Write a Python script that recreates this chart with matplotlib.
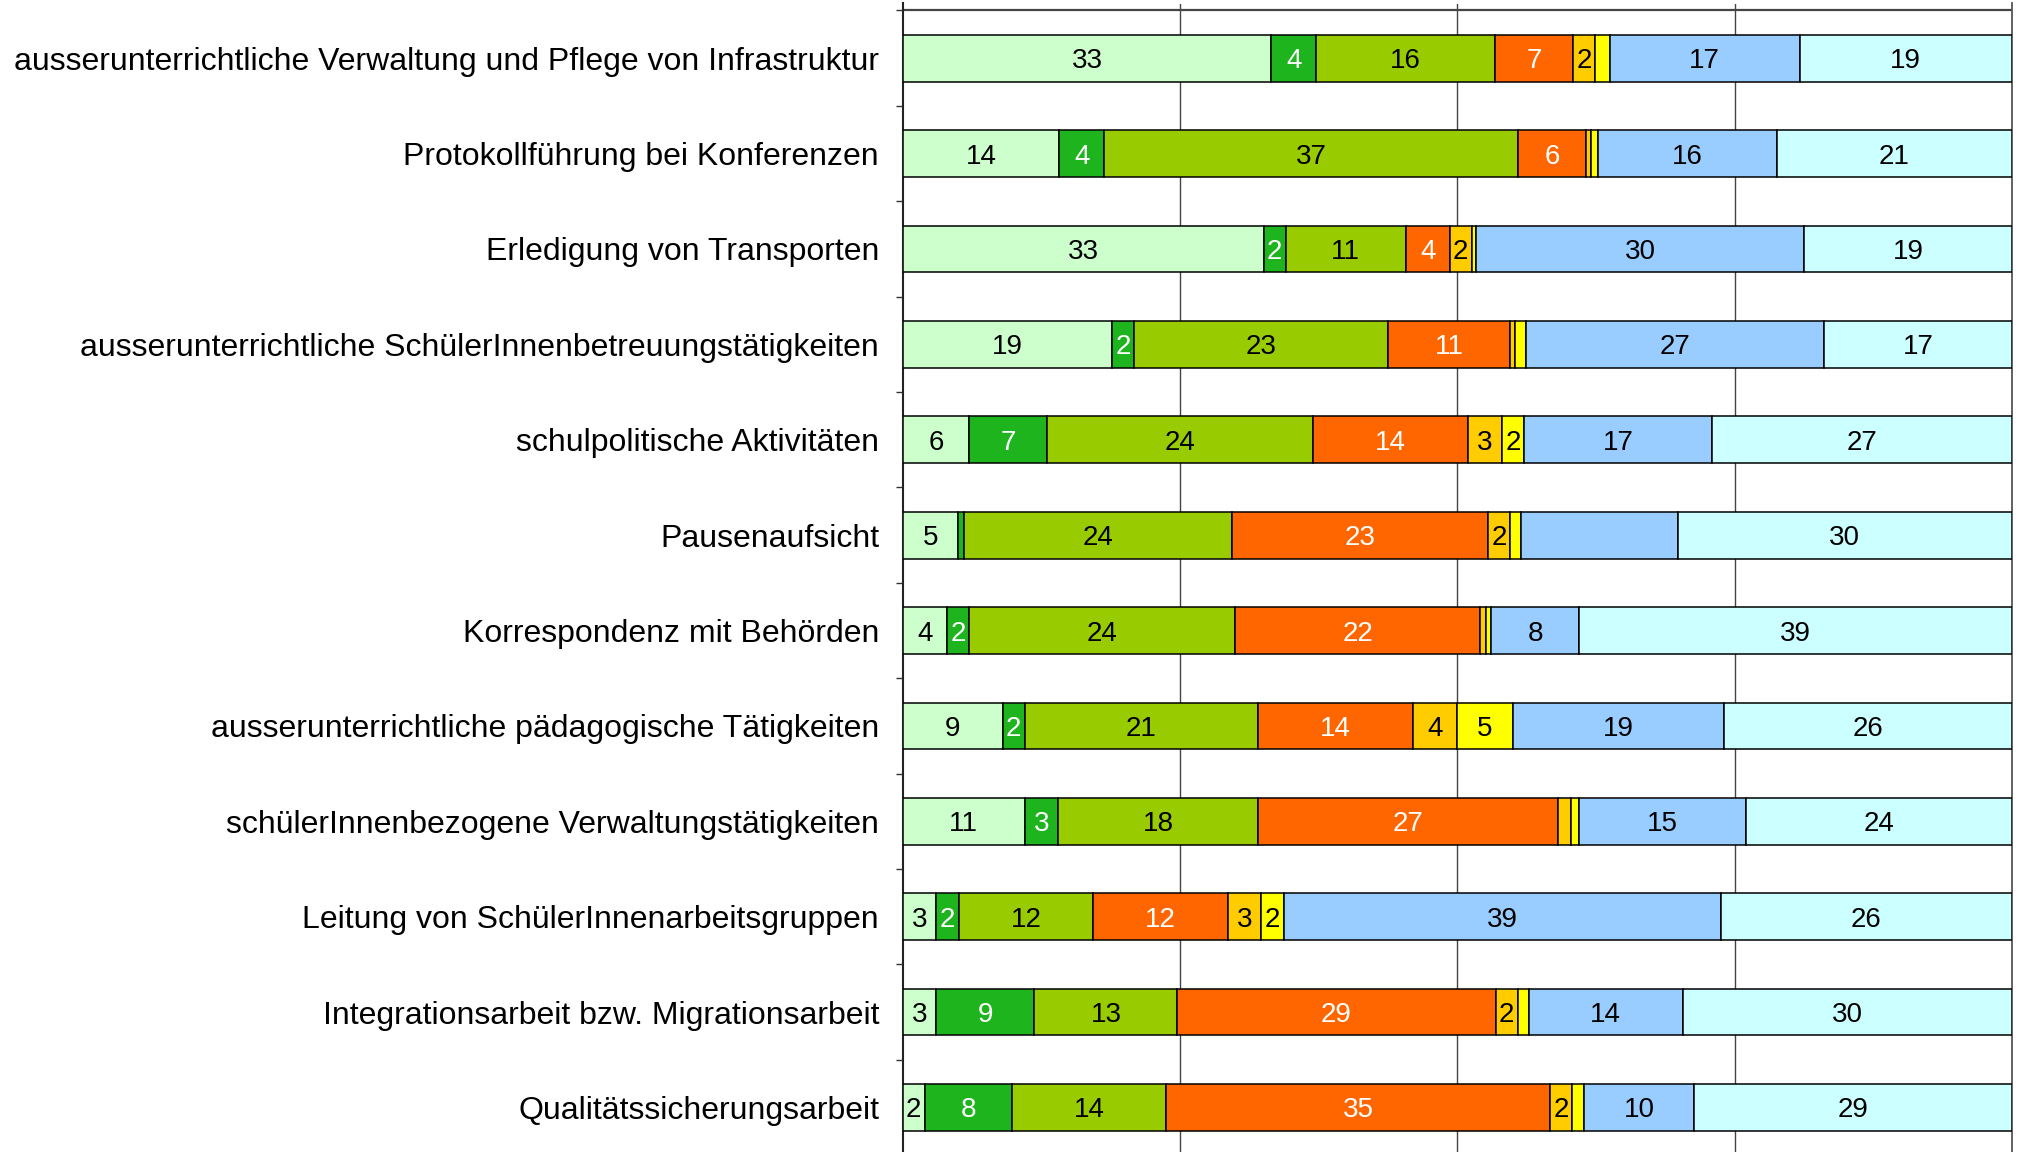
import numpy as np
import matplotlib
matplotlib.use("Agg")
import matplotlib.pyplot as plt

plt.rcParams['font.family'] = ['Liberation Sans', 'DejaVu Sans']

# categories, top to bottom
categories = [
    "ausserunterrichtliche Verwaltung und Pflege von Infrastruktur",
    "Protokollführung bei Konferenzen",
    "Erledigung von Transporten",
    "ausserunterrichtliche SchülerInnenbetreuungstätigkeiten",
    "schulpolitische Aktivitäten",
    "Pausenaufsicht",
    "Korrespondenz mit Behörden",
    "ausserunterrichtliche pädagogische Tätigkeiten",
    "schülerInnenbezogene Verwaltungstätigkeiten",
    "Leitung von SchülerInnenarbeitsgruppen",
    "Integrationsarbeit bzw. Migrationsarbeit",
    "Qualitätssicherungsarbeit",
]

# eight answer categories (percent), one list per series
s1 = [33, 14, 33, 19, 6, 5, 4, 9, 11, 3, 3, 2]
s2 = [4, 4, 2, 2, 7, 0.5, 2, 2, 3, 2, 9, 8]
s3 = [16, 37, 11, 23, 24, 24, 24, 21, 18, 12, 13, 14]
s4 = [7, 6, 4, 11, 14, 23, 22, 14, 27, 12, 29, 35]
s5 = [2, 0.5, 2, 0.5, 3, 2, 0.6, 4, 1.2, 3, 2, 2]
s6 = [1.3, 0.6, 0.4, 1, 2, 1, 0.4, 5, 0.7, 2, 1, 1.1]
s7 = [17, 16, 30, 27, 17, 14, 8, 19, 15, 39, 14, 10]
s8 = [19, 21, 19, 17, 27, 30, 39, 26, 24, 26, 30, 29]

series = [s1, s2, s3, s4, s5, s6, s7, s8]
colors = ['#CCFFCC', '#1EB41E', '#99CC00', '#FF6600',
          '#FFCC00', '#FFFF00', '#99CCFF', '#CCFFFF']
text_colors = ['black', 'white', 'black', 'white',
               'black', 'black', 'black', 'black']

# labels that are not shown in the original (series index, row index)
hidden_labels = {(6, 5)}

data = np.array(series, dtype=float)
shares = data / data.sum(axis=0) * 100

fig = plt.figure(figsize=(20.19, 11.52), dpi=100)
px = 95.39  # pixels per category
y_top = -0.5 - 7 / px
y_bot = 11.5
ax_h = (y_bot - y_top) * px / 1152
ax = fig.add_axes([902.7 / 2019, 1 - (3.5 / 1152) - ax_h, 1109.3 / 2019, ax_h])

y = np.arange(len(categories))
left = np.zeros(len(categories))
base_off = 10 / px  # half digit height, puts digits in the middle of the bar
for i, (vals, col) in enumerate(zip(shares, colors)):
    bars = ax.barh(y, vals, left=left, height=0.49, color=col,
                   edgecolor='black', linewidth=1.1, zorder=3)
    for j, b in enumerate(bars):
        v = data[i][j]
        if v >= 1.5 and (i, j) not in hidden_labels:
            ax.text(left[j] + vals[j] / 2, y[j] + base_off, f"{v:.0f}",
                    ha='center', va='baseline', fontsize=20,
                    color=text_colors[i], zorder=4)
    left += vals

ax.set_xlim(0, 100)
ax.set_ylim(y_bot, y_top)

for gx in [25, 50, 75]:
    ax.axvline(gx, color='#444444', linewidth=1, zorder=1)
ax.axhline(-0.5, color='#444444', linewidth=1.6, zorder=2)

ax.set_yticks(y)
ax.set_yticklabels(categories, fontsize=23)
ax.tick_params(axis='y', which='major', length=0, pad=17)
ax.set_yticks(np.arange(-0.5, 12, 1), minor=True)
ax.tick_params(axis='y', which='minor', length=5, width=1, color='#333333',
               direction='out')
ax.set_xticks([])

ax.spines['top'].set_visible(False)
ax.spines['bottom'].set_visible(False)
ax.spines['left'].set_color('#222222')
ax.spines['left'].set_linewidth(1.5)
ax.spines['right'].set_color('#555555')
ax.spines['right'].set_linewidth(1.3)

fig.savefig("out.png", dpi=100)
